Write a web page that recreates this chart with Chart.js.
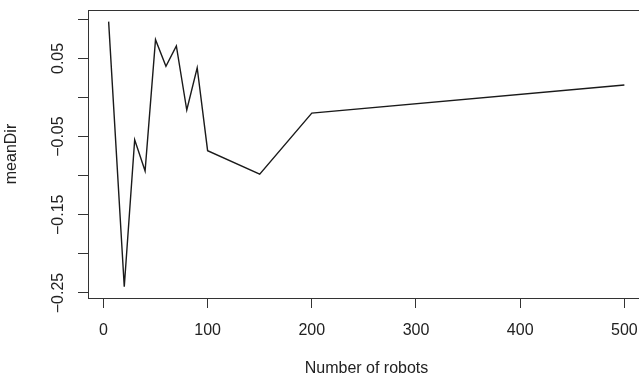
<!DOCTYPE html>
<html>
<head>
<meta charset="utf-8">
<script src="https://cdn.jsdelivr.net/npm/chart.js@4/dist/chart.umd.min.js"></script>
<style>
  html, body { margin: 0; padding: 0; background: #fff; overflow: hidden; }
  #wrap { width: 660px; height: 380px; }
</style>
</head>
<body>
<div id="wrap"><canvas id="grafico" width="660" height="380"></canvas></div>
<script>
// =======================
// Datos: dirección media según número de robots
// =======================
const robots = [5, 20, 30, 40, 50, 60, 70, 80, 90, 100, 150, 200, 500];
const meanDir = [0.097, -0.242, -0.054, -0.094, 0.074, 0.040, 0.066, -0.016, 0.038, -0.068, -0.098, -0.020, 0.016];

const xTicks = [0, 100, 200, 300, 400, 500];
const xTickLabels = ["0", "100", "200", "300", "400", "500"];
const yTicks = [-0.25, -0.20, -0.15, -0.10, -0.05, 0, 0.05, 0.10];
const yTickLabels = ["\u22120.25", "", "\u22120.15", "", "\u22120.05", "", "0.05", ""];

const fuente = { family: "'Liberation Sans', Arial, sans-serif", size: 16 };
const tinta = "#222";

// Marco alrededor del área de dibujo (estilo R)
const marco = {
  id: "marco",
  afterDatasetsDraw(chart) {
    const { ctx, chartArea: a } = chart;
    ctx.save();
    ctx.strokeStyle = "#333";
    ctx.lineWidth = 1;
    ctx.strokeRect(Math.round(a.left) + 0.5, Math.round(a.top) + 0.5,
                   Math.round(a.right - a.left), Math.round(a.bottom - a.top));
    ctx.restore();
  }
};

const ctx = document.getElementById("grafico").getContext("2d");
const grafico = new Chart(ctx, {
  type: "line",
  data: {
    datasets: [{
      data: robots.map((x, i) => ({ x: x, y: meanDir[i] })),
      borderColor: "#1a1a1a",
      borderWidth: 1.4,
      pointRadius: 0,
      tension: 0,
      fill: false
    }]
  },
  options: {
    responsive: false,
    animation: false,
    devicePixelRatio: 1,
    layout: { padding: { top: 10, right: 15, left: 0, bottom: 0 } },
    plugins: { legend: { display: false }, tooltip: { enabled: false } },
    scales: {
      x: {
        type: "linear",
        min: -14.8,
        max: 519.8,
        afterBuildTicks: s => { s.ticks = xTicks.map(v => ({ value: v })); },
        afterFit: s => { s.height = 82; },
        ticks: {
          autoSkip: false, maxRotation: 0, padding: 13,
          font: fuente, color: tinta,
          callback: (v, i) => xTickLabels[i]
        },
        grid: { drawOnChartArea: false, drawTicks: true, tickLength: 10, color: "#333", lineWidth: 1 },
        border: { display: false },
        title: { display: true, text: "Number of robots", font: fuente, color: tinta, padding: { top: 0, bottom: 1.6 } }
      },
      y: {
        min: -0.2564,
        max: 0.1119,
        afterBuildTicks: s => { s.ticks = yTicks.map(v => ({ value: v })); },
        afterFit: s => { s.width = 88; },
        ticks: {
          autoSkip: false, minRotation: 90, maxRotation: 90, crossAlign: "center", padding: -1,
          font: fuente, color: tinta,
          callback: (v, i) => yTickLabels[i]
        },
        grid: { drawOnChartArea: false, drawTicks: true, tickLength: 10, color: "#333", lineWidth: 1 },
        border: { display: false },
        title: { display: true, text: "meanDir", font: fuente, color: tinta, padding: { top: 2.2, bottom: 0 } }
      }
    }
  },
  plugins: [marco]
});
</script>
</body>
</html>
